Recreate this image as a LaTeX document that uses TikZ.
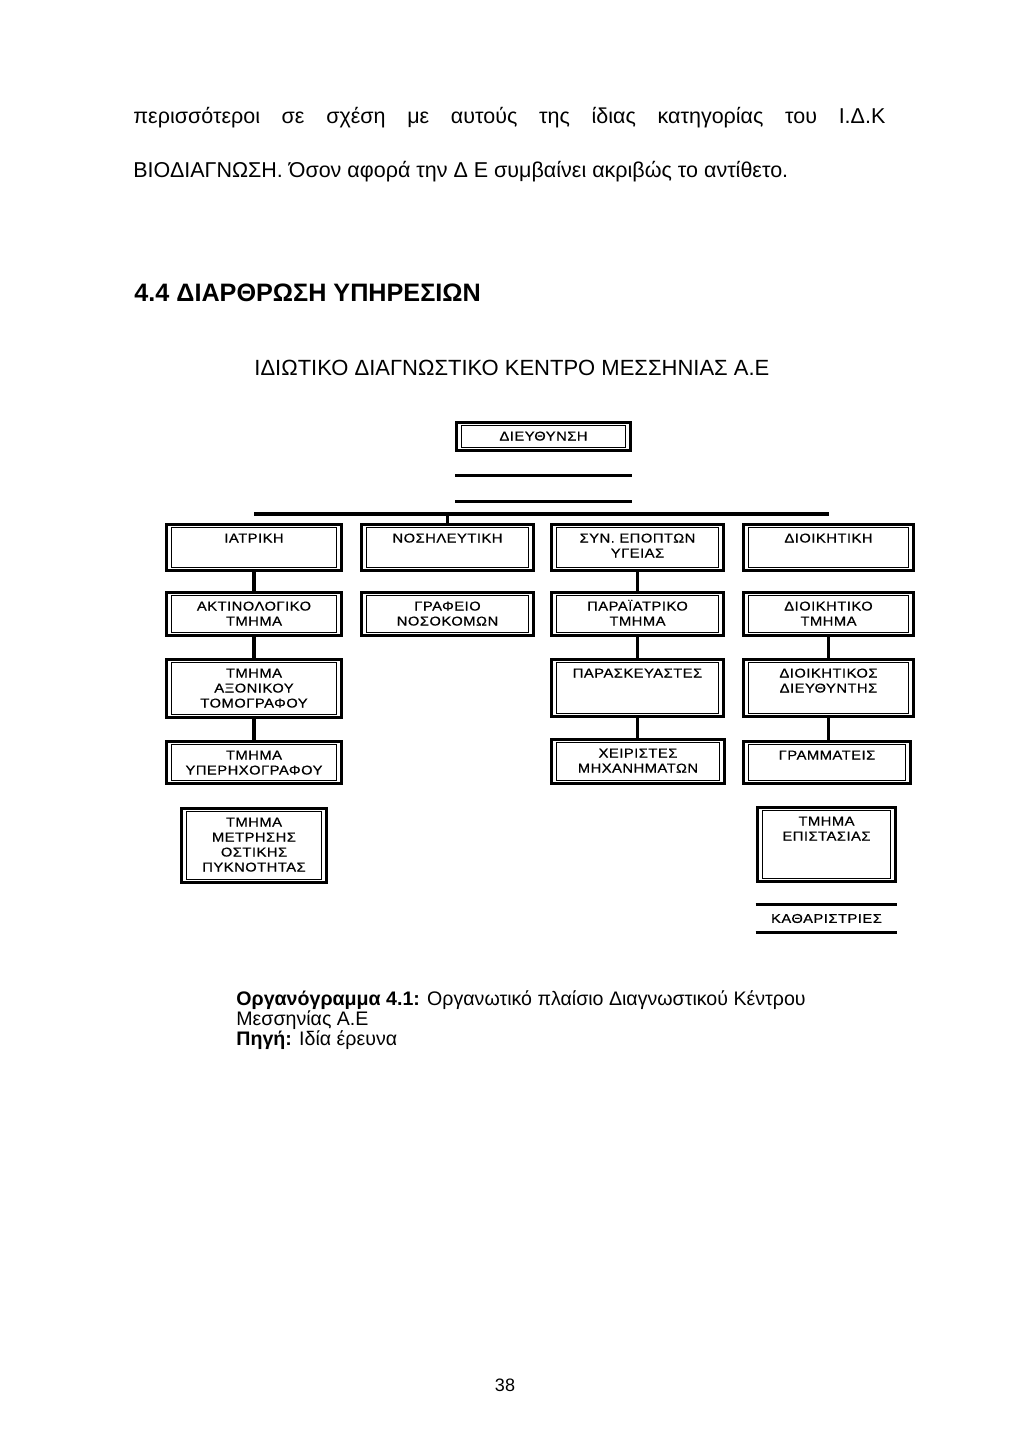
\documentclass[tikz,border=0pt]{standalone}
\usepackage{fontspec}
\setmainfont{Liberation Sans}
\newfontfamily\boxfont[LetterSpace=4,FakeStretch=1.15,FakeBold=0.6]{Liberation Sans}
\newcommand\boxsize{\fontsize{6.4pt}{7.5pt}\selectfont}
\newcommand\orgbox[6]{%
  \pgfmathsetmacro\obw{0.5*(#4-#2-3)}%
  \pgfmathsetmacro\obh{0.5*(#5-#3-3)}%
  \node[bx] (#1) at ({(#2+#4)/2},{(#3+#5)/2})
    {\parbox[c][\obh pt][t]{\obw pt}{\centering\boxfont\boxsize\rule{0pt}{9pt}#6\par}};%
}
\begin{document}
\begin{tikzpicture}[x=0.5pt,y=-0.5pt,
  bx/.style={draw, line width=1.5pt, inner sep=0pt,
    path picture={\draw[line width=0.45pt]
      ([shift={(2.4pt,-1.6pt)}]path picture bounding box.north west) rectangle
      ([shift={(-2.4pt,1.6pt)}]path picture bounding box.south east);}},
  conn/.style={line width=1.6pt},
  hline/.style={line width=1.8pt},
  body/.style={anchor=base west, inner sep=0pt, font=\fontsize{10.75pt}{12pt}\selectfont}
]
\path[use as bounding box, fill=white] (0,0) rectangle (1024,1455);

% running text
\node[body] (p1) at (133,124) {\makebox[376pt][s]{περισσότεροι σε σχέση με αυτούς της ίδιας κατηγορίας του Ι.Δ.Κ}};
\node[body] (p2) at (133,177.5) {ΒΙΟΔΙΑΓΝΩΣΗ. Όσον αφορά την Δ Ε συμβαίνει ακριβώς το αντίθετο.};
\node[anchor=base west, inner sep=0pt, font=\fontsize{12.6pt}{14pt}\selectfont\bfseries] (head) at (134,301) {4.4 ΔΙΑΡΘΡΩΣΗ ΥΠΗΡΕΣΙΩΝ};
\node[anchor=base west, inner sep=0pt, font=\fontsize{11pt}{13pt}\selectfont] (sub) at (254,375) {ΙΔΙΩΤΙΚΟ ΔΙΑΓΝΩΣΤΙΚΟ ΚΕΝΤΡΟ ΜΕΣΣΗΝΙΑΣ Α.Ε};

% boxes
\orgbox{dieu}{455}{421}{632}{452}{ΔΙΕΥΘΥΝΣΗ}
\orgbox{iatr}{165}{523}{343}{572}{ΙΑΤΡΙΚΗ}
\orgbox{nosil}{360}{523}{535}{572}{ΝΟΣΗΛΕΥΤΙΚΗ}
\orgbox{synep}{550}{523}{725}{572}{ΣΥΝ. ΕΠΟΠΤΩΝ\\ΥΓΕΙΑΣ}
\orgbox{dioik}{742}{523}{915}{572}{ΔΙΟΙΚΗΤΙΚΗ}
\orgbox{aktin}{165}{591}{343}{637}{ΑΚΤΙΝΟΛΟΓΙΚΟ\\ΤΜΗΜΑ}
\orgbox{grafeio}{360}{591}{535}{637}{ΓΡΑΦΕΙΟ\\ΝΟΣΟΚΟΜΩΝ}
\orgbox{parai}{550}{591}{725}{637}{ΠΑΡΑΪΑΤΡΙΚΟ\\ΤΜΗΜΑ}
\orgbox{dioiktm}{742}{591}{915}{637}{ΔΙΟΙΚΗΤΙΚΟ\\ΤΜΗΜΑ}
\orgbox{axon}{165}{658}{343}{719}{ΤΜΗΜΑ\\ΑΞΟΝΙΚΟΥ\\ΤΟΜΟΓΡΑΦΟΥ}
\orgbox{parask}{550}{658}{725}{718}{ΠΑΡΑΣΚΕΥΑΣΤΕΣ}
\orgbox{dioikd}{742}{658}{915}{718}{ΔΙΟΙΚΗΤΙΚΟΣ\\ΔΙΕΥΘΥΝΤΗΣ}
\orgbox{yperix}{165}{740}{343}{785}{ΤΜΗΜΑ\\ΥΠΕΡΗΧΟΓΡΑΦΟΥ}
\orgbox{xeir}{550}{738}{726}{785}{ΧΕΙΡΙΣΤΕΣ\\ΜΗΧΑΝΗΜΑΤΩΝ}
\orgbox{gramm}{742}{740}{912}{785}{ΓΡΑΜΜΑΤΕΙΣ}
\orgbox{metr}{180}{807}{328}{884}{ΤΜΗΜΑ\\ΜΕΤΡΗΣΗΣ\\ΟΣΤΙΚΗΣ\\ΠΥΚΝΟΤΗΤΑΣ}
\orgbox{epist}{756}{806}{897}{883}{ΤΜΗΜΑ\\ΕΠΙΣΤΑΣΙΑΣ}
\node[inner sep=0pt, minimum width=70.5pt, minimum height=13.5pt] (kath) at (826.5,918.5) {\boxfont\boxsize ΚΑΘΑΡΙΣΤΡΙΕΣ};
\draw[hline] (kath.north west) -- (kath.north east);
\draw[hline] (kath.south west) -- (kath.south east);

% lines under the direction box
\draw[hline] ([yshift=-11.75pt]dieu.south west) -- ([yshift=-11.75pt]dieu.south east);
\draw[hline] ([yshift=-24.75pt]dieu.south west) -- ([yshift=-24.75pt]dieu.south east);
\coordinate (bus) at (0,514);
\draw[hline] (iatr.north |- bus) -- (dioik.north |- bus);
\draw[conn] (nosil.north |- bus) -- (nosil.north);

% connectors
\draw[conn] (iatr.south) -- (aktin.north);
\draw[conn] (aktin.south) -- (axon.north);
\draw[conn] (axon.south) -- (yperix.north);
\draw[conn] (synep.south) -- (parai.north);
\draw[conn] (parai.south) -- (parask.north);
\draw[conn] (parask.south) -- (parask.south |- xeir.north);
\draw[conn] (dioiktm.south) -- (dioikd.north);
\draw[conn] (dioikd.south) -- (dioikd.south |- gramm.north);

% caption
\node[anchor=base west, inner sep=0pt, font=\fontsize{9.8pt}{10pt}\selectfont] (cap1) at (236,1005) {\textbf{Οργανόγραμμα 4.1:} Οργανωτικό πλαίσιο Διαγνωστικού Κέντρου};
\node[anchor=base west, inner sep=0pt, font=\fontsize{9.8pt}{10pt}\selectfont] (cap2) at (236,1025) {Μεσσηνίας Α.Ε};
\node[anchor=base west, inner sep=0pt, font=\fontsize{9.8pt}{10pt}\selectfont] (cap3) at (236,1045) {\textbf{Πηγή:} Ιδία έρευνα};

\node[anchor=base, inner sep=0pt, font=\fontsize{9pt}{10pt}\selectfont] (pg) at (505,1391) {38};
\end{tikzpicture}
\end{document}
